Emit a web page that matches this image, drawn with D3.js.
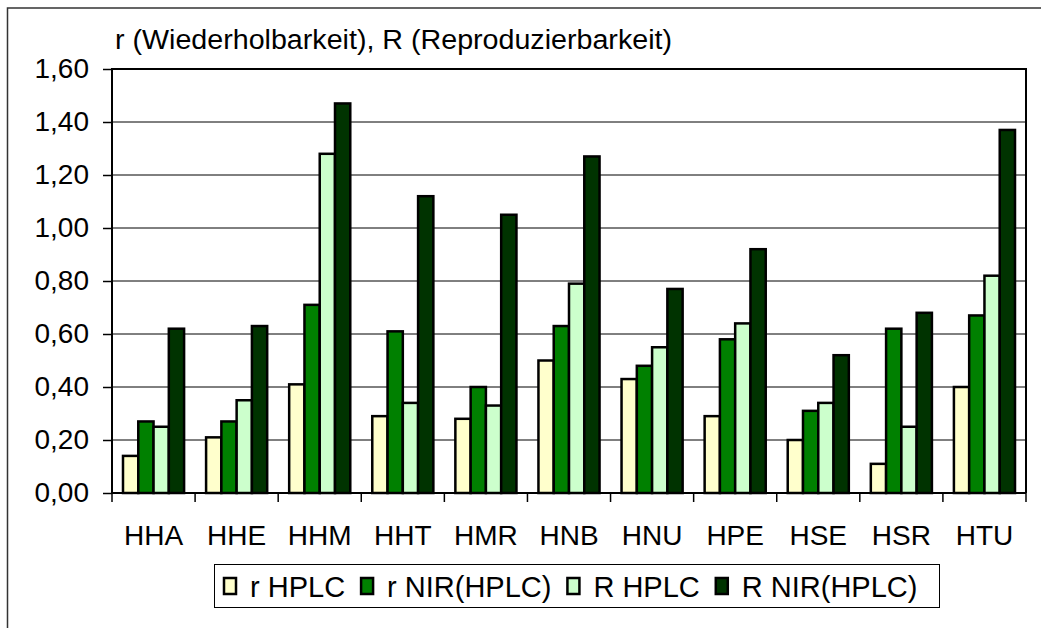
<!DOCTYPE html>
<html>
<head>
<meta charset="utf-8">
<script src="https://cdn.jsdelivr.net/npm/d3@7"></script>
<style>
  body { margin: 0; background: #fff; }
  text { font-family: "Liberation Sans", Arial, sans-serif; fill: #000; }
</style>
</head>
<body>
<div id="chart"></div>
<script>
// data
const categories = ["HHA", "HHE", "HHM", "HHT", "HMR", "HNB", "HNU", "HPE", "HSE", "HSR", "HTU"];
const seriesNames = ["r HPLC", "r NIR(HPLC)", "R HPLC", "R NIR(HPLC)"];
const rHPLC   = [0.14, 0.21, 0.41, 0.29, 0.28, 0.50, 0.43, 0.29, 0.20, 0.11, 0.40];
const rNIR    = [0.27, 0.27, 0.71, 0.61, 0.40, 0.63, 0.48, 0.58, 0.31, 0.62, 0.67];
const bigRHPLC = [0.25, 0.35, 1.28, 0.34, 0.33, 0.79, 0.55, 0.64, 0.34, 0.25, 0.82];
const bigRNIR  = [0.62, 0.63, 1.47, 1.12, 1.05, 1.27, 0.77, 0.92, 0.52, 0.68, 1.37];
const yTicks = [0, 0.2, 0.4, 0.6, 0.8, 1.0, 1.2, 1.4, 1.6];
const colors = ["#FFFFCC", "#008000", "#CCFFCC", "#003300"];
const title = "r (Wiederholbarkeit), R (Reproduzierbarkeit)";

const seriesValues = [rHPLC, rNIR, bigRHPLC, bigRNIR];

// set the dimensions and margins of the graph
const W = 1041, H = 628;
const margin = {top: 69, right: 15, bottom: 135, left: 112},
    width = W - margin.left - margin.right,
    height = H - margin.top - margin.bottom;

const root = d3.select("#chart")
    .append("svg")
    .attr("width", W)
    .attr("height", H);

// outer chart border (runs off the right/bottom edge)
root.append("rect")
    .attr("x", 7.5).attr("y", 8)
    .attr("width", 1045).attr("height", 630)
    .attr("fill", "none")
    .attr("stroke", "#333")
    .attr("stroke-width", 1.5);

root.append("text")
    .attr("x", 115)
    .attr("y", 49)
    .attr("font-size", 27)
    .attr("textLength", 557)
    .attr("lengthAdjust", "spacingAndGlyphs")
    .text(title);

const svg = root.append("g")
    .attr("transform", "translate(" + margin.left + "," + margin.top + ")");

// scales
const x0 = d3.scaleBand()
    .domain(categories)
    .range([0, width])
    .padding(0);

const x1 = d3.scaleBand()
    .domain(seriesNames)
    .range([0, x0.bandwidth()])
    .paddingInner(0)
    .paddingOuter(0.72);

const y = d3.scaleLinear()
    .domain([0, 1.6])
    .range([height, 0]);

const fmt = v => d3.format(".2f")(v).replace(".", ",");

// gridlines
svg.append("g")
    .selectAll("line")
    .data(yTicks.slice(1))
    .enter()
    .append("line")
    .attr("x1", 0).attr("x2", width)
    .attr("y1", d => y(d)).attr("y2", d => y(d))
    .attr("stroke", "#000")
    .attr("stroke-width", 1);

// Y axis
const yAxis = svg.append("g")
    .call(d3.axisLeft(y).tickValues(yTicks).tickFormat(fmt).tickSize(9).tickPadding(14));
yAxis.select(".domain").remove();
yAxis.selectAll("line").attr("stroke", "#000").attr("stroke-width", 1.5);
yAxis.selectAll("text")
    .attr("font-family", "Liberation Sans, Arial, sans-serif")
    .attr("font-size", 28)
    .attr("fill", "#000");

// bars
const groups = svg.append("g")
    .selectAll("g")
    .data(categories)
    .enter()
    .append("g")
    .attr("transform", d => "translate(" + x0(d) + ",0)");

groups.selectAll("rect")
    .data((c, i) => seriesNames.map((s, j) => ({s: s, j: j, v: seriesValues[j][i]})))
    .enter()
    .append("rect")
    .attr("x", d => x1(d.s))
    .attr("y", d => y(d.v))
    .attr("width", x1.bandwidth())
    .attr("height", d => height - y(d.v))
    .attr("fill", d => colors[d.j])
    .attr("stroke", "#000")
    .attr("stroke-width", 2.5);

// plot frame
svg.append("path")
    .attr("d", "M0," + height + "V0H" + width + "V" + height)
    .attr("fill", "none")
    .attr("stroke", "#000")
    .attr("stroke-width", 2);

// X axis
const boundaries = categories.map(c => x0(c)).concat([width]);
const xAxis = svg.append("g")
    .attr("transform", "translate(0," + height + ")");
xAxis.append("line")
    .attr("x1", 0).attr("x2", width)
    .attr("stroke", "#000").attr("stroke-width", 2);
xAxis.selectAll(".tk")
    .data(boundaries)
    .enter()
    .append("line")
    .attr("class", "tk")
    .attr("x1", d => d).attr("x2", d => d)
    .attr("y1", 0).attr("y2", 9)
    .attr("stroke", "#000").attr("stroke-width", 1.5);
xAxis.selectAll(".lbl")
    .data(categories)
    .enter()
    .append("text")
    .attr("class", "lbl")
    .attr("x", d => x0(d) + x0.bandwidth() / 2)
    .attr("y", 52)
    .attr("text-anchor", "middle")
    .attr("font-size", 28)
    .text(d => d);

// legend
const legend = root.append("g");
legend.append("rect")
    .attr("x", 214.5).attr("y", 564.5)
    .attr("width", 725).attr("height", 43)
    .attr("fill", "#fff")
    .attr("stroke", "#000")
    .attr("stroke-width", 1);

let lx = 224;
seriesNames.forEach((s, j) => {
  legend.append("rect")
      .attr("x", lx).attr("y", 578)
      .attr("width", 12).attr("height", 16)
      .attr("fill", colors[j])
      .attr("stroke", "#000")
      .attr("stroke-width", 2.5);
  const t = legend.append("text")
      .attr("x", lx + 26)
      .attr("y", 597)
      .attr("font-size", 29)
      .text(s);
  lx += 26 + t.node().getComputedTextLength() + 16;
});
</script>
</body>
</html>
